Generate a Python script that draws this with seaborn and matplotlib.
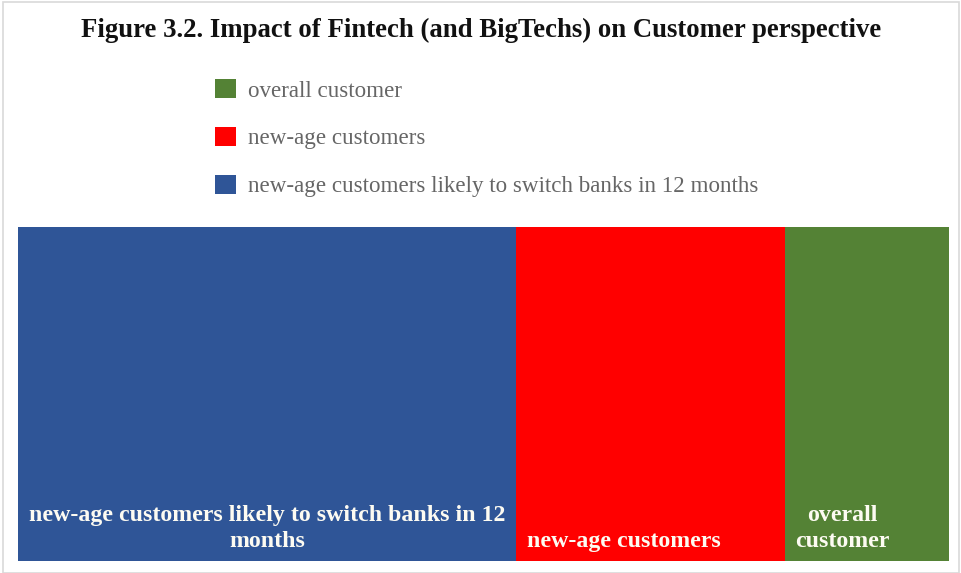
import matplotlib
matplotlib.use("Agg")
import matplotlib.pyplot as plt
import seaborn as sns
from matplotlib.patches import Patch, Rectangle

# Segment data (left to right along the single 100% bar)
categories = [
    "new-age customers likely to switch banks in 12 months",
    "new-age customers",
    "overall customer",
]
values = [91, 49, 30]
bar_labels = [
    "new-age customers likely to switch banks in 12\nmonths",
    "new-age customers",
    "overall\ncustomer",
]
colors = ["#2F5597", "#FF0000", "#548235"]
# horizontal anchor of each label inside its segment (0 = left edge, 1 = right edge)
label_anchor = [0.5, 0.40, 0.35]

sns.set_theme(style="white")
plt.rcParams["font.family"] = ["Liberation Serif", "DejaVu Serif"]

fig = plt.figure(figsize=(9.62, 5.73), dpi=100)
ax = fig.add_axes([0.0187, 0.0209, 0.9678, 0.5829])

# Stacked bar built from overlapping cumulative bars, drawn widest first
cumulative = []
running = 0
for v in values:
    running += v
    cumulative.append(running)

for cum, col in reversed(list(zip(cumulative, colors))):
    sns.barplot(x=[cum], y=["all"], color=col, orient="h", width=1.0,
                saturation=1, ax=ax, linewidth=0)

total = cumulative[-1]
ax.set_xlim(0, total)
ax.set_ylim(0.5, -0.5)
ax.axis("off")

# Labels at the bottom of each segment
starts = [0] + cumulative[:-1]
for s, v, lab, a in zip(starts, values, bar_labels, label_anchor):
    ax.text(s + v * a, 0.473, lab, ha="center", va="bottom", color="#fdfbf2",
            fontsize=17.2, fontweight="bold", multialignment="center",
            linespacing=1.3)

fig.text(0.5, 1 - 30 / 573,
         "Figure 3.2. Impact of Fintech (and BigTechs) on Customer perspective",
         ha="center", va="center", fontsize=19.3, fontweight="bold",
         color="#111111")

handles = [Patch(facecolor=c, edgecolor="none") for c in reversed(colors)]
fig.legend(handles, list(reversed(categories)), loc="upper left",
           bbox_to_anchor=(0.2235, 0.862), frameon=False, fontsize=16.6,
           handlelength=0.9, handleheight=0.9, handletextpad=0.55,
           labelspacing=1.1, labelcolor="#666666", borderaxespad=0,
           borderpad=0)

# Thin light frame around the whole image
fig.patches.append(Rectangle((0.003, 0.0), 0.994, 0.996, transform=fig.transFigure,
                             fill=False, edgecolor="#d9d9d9", linewidth=1.2))

fig.savefig("out.png", dpi=100, facecolor="white")
